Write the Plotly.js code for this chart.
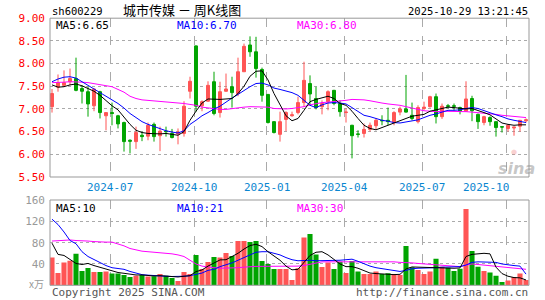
<!DOCTYPE html>
<html>
<head>
<meta charset="utf-8">
<script src="https://cdn.plot.ly/plotly-3.0.1.min.js"></script>
<style>html,body{margin:0;padding:0;background:#fff;}#chart{width:545px;height:300px;}</style>
</head>
<body>
<div id="chart"></div>
<script>
// ---- data (weekly candles, index 0..79) ----
const openP  = [7.05,7.48,7.52,7.60,7.67,7.45,7.38,7.07,7.38,6.85,6.92,6.85,6.70,6.31,6.28,6.42,6.40,6.66,6.41,6.51,
                6.46,6.45,6.46,7.39,8.39,7.07,7.17,7.60,6.92,7.39,7.49,7.34,7.82,8.41,8.26,7.87,7.32,6.72,6.44,6.77,
                6.85,6.92,7.14,7.56,7.23,7.05,7.16,7.41,7.12,6.92,6.64,6.45,6.46,6.55,6.63,6.75,6.75,6.70,6.93,7.00,
                6.86,6.72,7.01,7.05,7.27,6.83,7.07,7.07,7.03,6.95,7.23,6.88,6.70,6.81,6.72,6.61,6.57,6.58,6.62,6.74];
const highP  = [7.44,7.76,7.85,7.89,8.13,7.52,7.49,7.45,7.40,6.92,7.14,6.87,6.72,6.33,6.61,6.50,6.70,6.70,6.61,6.61,
                6.56,6.57,7.17,7.71,8.40,7.19,7.61,7.82,7.60,7.78,7.71,8.13,8.44,8.60,8.59,7.91,7.33,6.73,6.94,6.95,
                6.94,7.27,8.04,7.74,7.49,7.19,7.41,7.42,7.19,7.01,6.65,6.53,6.68,6.70,6.79,6.86,7.03,6.95,7.05,7.75,
                7.14,7.08,7.16,7.29,7.34,7.12,7.11,7.12,7.05,7.61,7.29,6.90,6.85,6.84,6.72,6.61,6.66,6.59,6.75,6.79];
const lowP   = [6.92,7.38,7.49,7.52,7.39,7.12,6.83,6.95,6.79,6.53,6.64,6.57,6.06,6.02,6.12,6.29,6.31,6.28,6.07,6.39,
                6.35,6.22,6.39,7.23,6.94,6.95,7.16,6.86,6.81,7.38,7.03,7.28,7.82,8.15,7.69,7.16,6.68,6.46,6.28,6.51,
                6.83,6.88,7.05,7.08,6.99,6.88,6.97,7.08,6.83,6.70,5.91,6.37,6.37,6.50,6.55,6.64,6.64,6.64,6.86,6.92,
                6.75,6.68,6.97,7.03,6.68,6.78,7.01,6.97,6.88,6.94,6.73,6.56,6.64,6.63,6.39,6.48,6.50,6.41,6.50,6.70];
const closeP = [7.34,7.58,7.58,7.67,7.41,7.39,7.11,7.44,6.92,6.92,6.90,6.67,6.28,6.29,6.48,6.39,6.64,6.39,6.51,6.50,
                6.37,6.49,7.06,7.61,7.06,7.16,7.52,6.90,7.38,7.44,7.36,7.82,8.38,8.26,7.89,7.30,6.70,6.48,6.72,6.92,
                6.87,7.14,7.63,7.33,7.03,7.12,7.38,7.12,6.94,6.93,6.41,6.44,6.55,6.64,6.75,6.74,6.72,6.92,7.00,6.93,
                6.79,7.03,7.04,7.27,6.83,7.06,7.06,7.06,6.95,7.22,6.96,6.72,6.83,6.72,6.59,6.60,6.64,6.60,6.75,6.76];
const volume = [52,23,42.6,46,59,27,32.6,25,25,25.7,22,22,19.4,15.6,18,19.4,16.3,17,21,18,
                13.8,8.1,25,21,57,30.7,43.8,53,52,60.7,55,83,83,81,83,45.7,40,30.7,30.7,30.7,
                10,32,89.5,96.4,58,34.4,42.6,30.7,44.4,23,45.7,25.7,21.3,21.3,25.7,21.3,22.5,21.3,19.4,73.9,
                33.8,28.8,21.3,25.7,50,35,33,27,31,143,64.5,35,27,23.8,18,6.3,8.8,15.6,22,10];
// moving averages as drawn on the chart
const priceMA5  = [7.53,7.48,7.49,7.53,7.55,7.51,7.45,7.39,7.30,7.18,7.07,6.98,6.82,6.66,6.53,6.48,6.46,6.45,6.45,6.46,
                   6.44,6.42,6.50,6.75,6.95,7.13,7.22,7.21,7.21,7.22,7.23,7.34,7.50,7.72,7.83,7.84,7.64,7.34,7.08,6.85,
                   6.74,6.79,6.97,7.16,7.21,7.25,7.28,7.23,7.12,7.08,6.95,6.79,6.64,6.57,6.54,6.59,6.64,6.69,6.73,6.78,
                   6.84,6.86,6.88,6.95,6.98,7.02,7.04,7.03,7.02,7.00,7.01,6.97,6.92,6.87,6.78,6.69,6.66,6.64,6.65,6.65];
const priceMA10 = [7.60,7.66,7.70,7.71,7.68,7.60,7.53,7.44,7.36,7.29,7.21,7.12,7.02,6.90,6.81,6.72,6.66,6.61,6.56,6.52,
                   6.49,6.47,6.52,6.66,6.75,6.85,6.92,7.00,7.06,7.16,7.24,7.32,7.41,7.49,7.56,7.57,7.53,7.46,7.43,7.40,
                   7.36,7.30,7.20,7.08,7.03,7.09,7.13,7.14,7.13,7.11,7.03,6.94,6.86,6.83,6.79,6.75,6.73,6.70,6.69,6.71,
                   6.73,6.76,6.81,6.86,6.89,6.93,6.97,6.97,6.98,7.01,7.03,7.01,6.96,6.92,6.87,6.83,6.78,6.75,6.72,6.70];
const priceMA30 = [7.58,7.58,7.59,7.60,7.60,7.59,7.58,7.56,7.54,7.52,7.49,7.43,7.37,7.28,7.23,7.20,7.19,7.18,7.17,7.16,
                   7.15,7.14,7.12,7.10,7.08,7.04,7.02,7.00,6.99,6.99,7.01,7.03,7.04,7.05,7.05,7.05,7.04,7.01,7.00,7.00,
                   7.01,7.03,7.05,7.09,7.12,7.14,7.15,7.16,7.17,7.19,7.21,7.21,7.20,7.18,7.15,7.13,7.11,7.10,7.08,7.05,
                   7.02,6.99,6.96,6.95,6.94,6.95,6.95,6.95,6.95,6.94,6.93,6.92,6.91,6.90,6.88,6.86,6.85,6.84,6.82,6.81];
const volMA5  = [79,58,56,48,41,39,41,37,34,31,27,24,22.5,21,19.4,19.4,18,17.5,18,17,
                 17,15.6,17,18,25.7,28.8,36,42.6,47.6,48,54,60,68,74.5,77,72.6,63,55,47,36,
                 29,30,43,56,62,63,57,47.6,40,35,35,32,27,23,22,21,20.6,20,20.6,30.7,
                 34.4,34.4,33.8,33,33,32.6,32,32,32.6,54,58,59.5,60,59,34,22,17,14.5,14,10];
const volMA10 = [124,114,100,84,78,63,54,48,42,37,33,32,30,26,23,20,19,18,18,17,
                 16.5,16.5,17,18,21,23,28,30,35,38,42,47,52,58,62,63,63,60,57,52,
                 48,46,47,47,46,46,46,47,47,48,49,45,40,36,33,31,29,27,26,28,
                 31,32,32,32,33,34,34,34,35,38,43,44,44,44,43,40,38,37,36,21];
const volMA30 = [83,84,85,85,84,84,83,82,81,81,81,78,74,69,66,64,63,62,62,61,
                 59,57,54,47,40,36,34,33,32,32,32,33,34,35,35.5,35.5,35.5,35,35,35,
                 36,36,37,39,42,44,44,44,45,45,45,45,45,45,45,45,45,44,43,43,
                 42,41,40,39,38,37,36,35,35,38,40,39,38,36,35,34,33,33,32,30];
const monthLabels = ['2024-07','2024-10','2025-01','2025-04','2025-07','2025-10'];
const monthGrid   = [9.67, 23.67, 35.83, 48.67, 61.67, 75.67];
const monthLabelAt= [9.67, 23.67, 35.83, 48.67, 61.67, 72.4];
const priceTicks = [5.5,6.0,6.5,7.0,7.5,8.0,8.5,9.0];
const volTicks = [40,80,120,160];

// ---- drawing ----
const idx = openP.map((_, i) => i);
const UP = '#ff5555', DOWN = '#00a400';
const MONO = 'DejaVu Sans Mono, monospace';
const CJK = 'Noto Sans CJK SC, sans-serif';

const traces = [
  {type:'candlestick', x:idx, open:openP, high:highP, low:lowP, close:closeP,
   xaxis:'x', yaxis:'y', whiskerwidth:0, hoverinfo:'skip',
   increasing:{line:{color:UP,width:1}, fillcolor:UP},
   decreasing:{line:{color:DOWN,width:1}, fillcolor:DOWN}},
  {type:'scatter', mode:'lines', x:idx, y:priceMA30, xaxis:'x', yaxis:'y', line:{color:'#ff00ff',width:1}, hoverinfo:'skip'},
  {type:'scatter', mode:'lines', x:idx, y:priceMA10, xaxis:'x', yaxis:'y', line:{color:'#0000ff',width:1}, hoverinfo:'skip'},
  {type:'scatter', mode:'lines', x:idx, y:priceMA5,  xaxis:'x', yaxis:'y', line:{color:'#000000',width:1}, hoverinfo:'skip'},
  {type:'bar', x:idx, y:volume, xaxis:'x2', yaxis:'y2', hoverinfo:'skip',
   marker:{color: idx.map(i => closeP[i] >= openP[i] ? UP : DOWN), line:{width:0}}},
  {type:'scatter', mode:'lines', x:idx, y:volMA30, xaxis:'x2', yaxis:'y2', line:{color:'#ff00ff',width:1}, hoverinfo:'skip'},
  {type:'scatter', mode:'lines', x:idx, y:volMA10, xaxis:'x2', yaxis:'y2', line:{color:'#0000ff',width:1}, hoverinfo:'skip'},
  {type:'scatter', mode:'lines', x:idx, y:volMA5,  xaxis:'x2', yaxis:'y2', line:{color:'#000000',width:1}, hoverinfo:'skip'}
];

const W = 545, H = 300, L = 50, R = 16;
const px = v => (v - L) / (W - L - R);
const py = v => (H - v) / H;

function ann(text, x, y, color, anchor, size, family, extra) {
  return Object.assign({text:text, x:px(x), y:py(y), xref:'paper', yref:'paper',
    xanchor:anchor, yanchor:'middle', showarrow:false,
    font:{family:family||MONO, size:size||11, color:color}}, extra||{});
}

const xCommon = {range:[-0.333, 79.5], tickvals:monthGrid, showticklabels:false, ticks:'',
  showgrid:true, gridcolor:'#aaaaaa', griddash:'dash', gridwidth:1, zeroline:false, showline:false, fixedrange:true};

const annotations = [
  ann('sh600229', 50, 10.5, '#000', 'left', 10.5),
  ann('城市传媒 － 周K线图', 121, 10, '#000', 'left', 13, CJK),
  ann('2025-10-29 13:21:45', 530, 10.5, '#000', 'right', 10.5),
  ann('MA5:6.65', 54, 25, '#000', 'left'),
  ann('MA10:6.70', 175, 25, '#0000ff', 'left'),
  ann('MA30:6.80', 295, 25, '#ff00ff', 'left'),
  ann('MA5:10', 54, 208, '#000', 'left'),
  ann('MA10:21', 175, 208, '#0000ff', 'left'),
  ann('MA30:30', 295, 208, '#ff00ff', 'left'),
  ann('x万', 46, 283, '#999999', 'right', 10, CJK),
  ann('Copyright 2025 SINA.COM', 50, 292.5, '#555555', 'left'),
  ann('http://finance.sina.com.cn', 530, 292.5, '#555555', 'right'),
  ann('<b><i>sina</i></b>', 516, 168, 'rgba(150,150,150,0.55)', 'center', 16, 'DejaVu Sans'),
  ann('●', 514, 152, 'rgba(240,120,120,0.35)', 'center', 7, 'DejaVu Sans')
];
monthLabels.forEach((t, k) => {
  annotations.push({text:t, x:monthLabelAt[k], xref:'x', y:py(187), yref:'paper',
    xanchor:'center', yanchor:'middle', showarrow:false,
    font:{family:MONO, size:11, color:'#0a86d0'}});
});

const layout = {
  width:W, height:H, margin:{l:L, r:R, t:0, b:0, pad:0},
  paper_bgcolor:'#fff', plot_bgcolor:'#fff', showlegend:false, hovermode:false,
  bargap:0.15, boxgap:0.3,
  xaxis: Object.assign({domain:[0,1], anchor:'y', rangeslider:{visible:false}}, xCommon),
  xaxis2: Object.assign({domain:[0,1], anchor:'y2', matches:'x'}, xCommon),
  yaxis: {domain:[py(177), py(18.2)], range:[5.5, 9.0], tickvals:priceTicks,
    ticktext:priceTicks.map(v => v.toFixed(2)), ticks:'', ticklabelstandoff:4,
    tickfont:{family:MONO, size:11, color:'#ff0000'},
    showgrid:true, gridcolor:'#aaaaaa', griddash:'dot', gridwidth:1, zeroline:false, fixedrange:true},
  yaxis2: {domain:[py(285.3), py(200)], range:[0,160], tickvals:volTicks, ticks:'', ticklabelstandoff:4,
    tickfont:{family:MONO, size:11, color:'#999999'},
    showgrid:true, gridcolor:'#aaaaaa', griddash:'dot', gridwidth:1, zeroline:false, fixedrange:true},
  shapes:[
    {type:'rect', xref:'x domain', yref:'y domain', x0:0, x1:1, y0:0, y1:1, line:{color:'#999999', width:1}},
    {type:'rect', xref:'x2 domain', yref:'y2 domain', x0:0, x1:1, y0:0, y1:1, line:{color:'#999999', width:1}}
  ],
  annotations:annotations
};

Plotly.newPlot('chart', traces, layout, {staticPlot:true, displayModeBar:false});
</script>
</body>
</html>
